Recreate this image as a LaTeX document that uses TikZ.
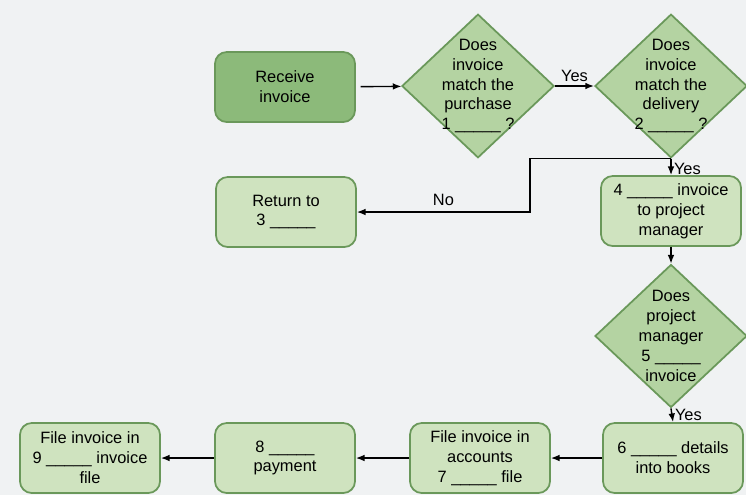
\documentclass[tikz,border=0pt]{standalone}
\usepackage{fontspec}
\setmainfont{Liberation Sans}
\usetikzlibrary{shapes.geometric,arrows.meta,positioning,calc}
\definecolor{darkleaf}{HTML}{8CBA7A}
\definecolor{midleaf}{HTML}{B4D3A2}
\definecolor{paleleaf}{HTML}{CFE3BF}
\definecolor{edgegreen}{HTML}{6A985A}
\definecolor{paper}{HTML}{F0F2F3}
\newcommand{\blank}{\_\_\_\_\_}

\begin{document}
\begin{tikzpicture}[x=0.03cm, y=-0.03cm,
  start/.style={draw=edgegreen, fill=darkleaf, line width=1.5pt, rounded corners=10pt,
                minimum width=4.2cm, minimum height=2.1cm, align=center,
                font=\fontsize{14}{17}\selectfont},
  task/.style={start, fill=paleleaf},
  decision/.style={draw=edgegreen, fill=midleaf, line width=1.5pt, diamond, aspect=1.06,
                   inner sep=-0.15cm, minimum width=4.56cm, minimum height=4.29cm,
                   align=center, font=\fontsize{14}{17}\selectfont},
  line/.style={line width=1.2pt},
  arr/.style={line, -{Latex[length=2.6mm, width=2mm]}},
  lbl/.style={font=\fontsize{14}{17}\selectfont, inner sep=3pt}
]
  \useasboundingbox (0,0) rectangle (746,495);
  \fill[paper] (0,0) rectangle (746,495);

  \node[start]    (receive) at (285,87)  {Receive\\invoice};
  \node[decision] (d1)      at (478,86)  {Does\\invoice\\match the\\purchase\\1 \blank\ ?};
  \node[decision] (d2)      at (671,86)  {Does\\invoice\\match the\\delivery\\2 \blank\ ?};
  \node[task]     (ret)     at (286,212) {Return to\\3 \blank};
  \node[task]     (b4)      at (671,211) {4 \blank\ invoice\\to project\\manager};
  \node[decision] (d3)      at (671,336) {Does\\project\\manager\\5 \blank\\invoice};
  \node[task]     (b6)      at (673,458) {6 \blank\ details\\into books};
  \node[task]     (b7)      at (480,458) {File invoice in\\accounts\\7 \blank\ file};
  \node[task]     (b8)      at (285,458) {8 \blank\\payment};
  \node[task]     (b9)      at (90,458)  {File invoice in\\9 \blank\ invoice\\file};
  \coordinate (nocorner) at (530,212);

  % top row
  \draw[arr, shorten <=4pt] (receive) -- (d1);
  \draw[arr] (d1) -- node[lbl,above]{Yes} (d2);
  % right column
  \draw[arr] (d2.south) -- node[lbl,right,inner sep=2pt,yshift=-2pt]{Yes} (b4.north);
  \draw[arr] (d2.south) -| (nocorner) -- node[lbl,above,yshift=2pt]{No} (ret.east);
  \draw[arr] (b4) -- (d3);
  \draw[arr] (d3.south) -- node[lbl,right,inner sep=2pt]{Yes} (b6.north);
  % bottom row
  \draw[arr] (b6) -- (b7);
  \draw[arr] (b7) -- (b8);
  \draw[arr] (b8) -- (b9);

\end{tikzpicture}
\end{document}
